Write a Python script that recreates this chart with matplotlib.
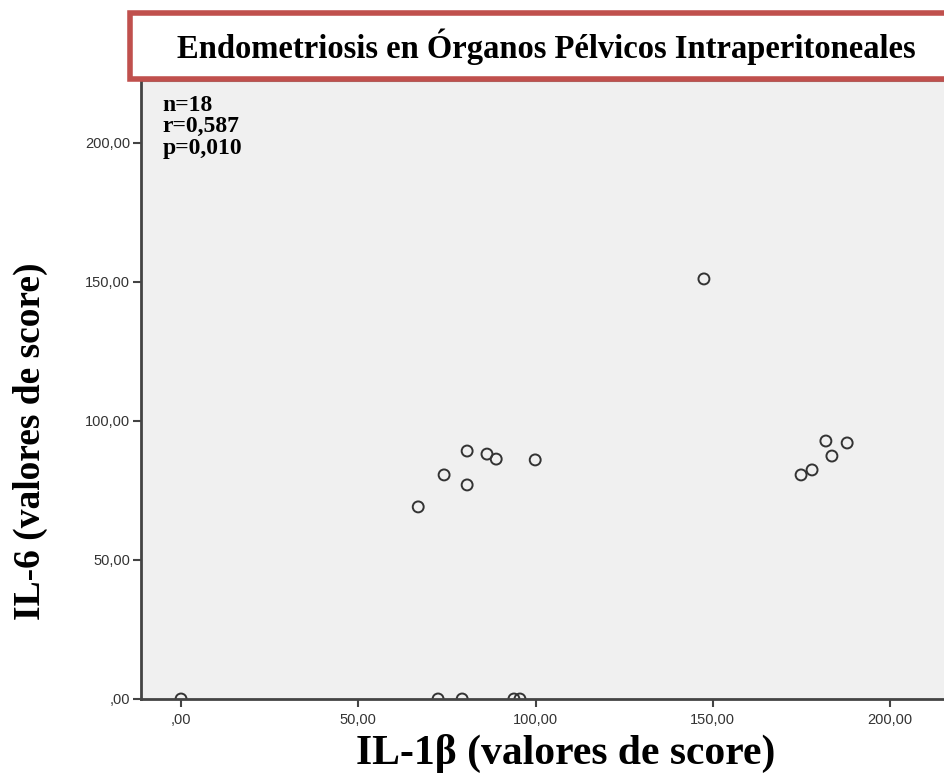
import matplotlib.pyplot as plt
from matplotlib.patches import Rectangle

# IL-1b vs IL-6 scores
il1b = [0, 72.5, 79.3, 93.9, 95.6,
        66.9, 74.2, 80.7, 80.7, 86.3, 88.9, 99.9,
        147.5,
        174.9, 178.0, 181.9, 183.6, 187.9]
il6 = [0, 0, 0, 0, 0,
       69.1, 80.6, 89.2, 77.0, 88.1, 86.3, 86.0,
       151.1,
       80.6, 82.4, 92.8, 87.4, 92.1]

ticks = [0, 50, 100, 150, 200]
tick_labels = [",00", "50,00", "100,00", "150,00", "200,00"]

title = "Endometriosis en Órganos Pélvicos Intraperitoneales"
stats = "n=18\nr=0,587\np=0,010"

serif = ['Liberation Serif', 'DejaVu Serif']
sans = ['Liberation Sans', 'DejaVu Sans']

fig = plt.figure(figsize=(9.45, 7.82), dpi=100)
ax = fig.add_axes([141/945, 1-699/782, 1-141/945, (699-81)/782])
ax.set_facecolor('#f0f0f0')

ax.scatter(il1b, il6, s=62, facecolors='none', edgecolors='#333333', linewidths=1.4, zorder=3)

ax.set_xlim(-11.3, 215.5)
ax.set_ylim(0, 222.3)
ax.set_xticks(ticks)
ax.set_xticklabels(tick_labels, family=sans, fontsize=10.5, color='#333333')
ax.set_yticks(ticks)
ax.set_yticklabels(tick_labels, family=sans, fontsize=10.5, color='#333333')
ax.tick_params(length=6, width=1.5, color='#444444', pad=4)
ax.tick_params(axis='y', pad=2)

for s in ['left', 'bottom']:
    ax.spines[s].set_linewidth(2)
    ax.spines[s].set_color('#444444')
    ax.spines[s].set_zorder(4)
ax.spines['top'].set_color('#888888')
ax.spines['right'].set_visible(False)

ax.text(0.027, 0.978, stats, transform=ax.transAxes, va='top', ha='left',
        family=serif, fontsize=17, fontweight='bold', linespacing=1.05)

fig.text(566/945, 1-753/782, "IL-1β (valores de score)", ha='center', va='center',
         family=serif, fontsize=30, fontweight='bold')
fig.text(30/945, 1-441/782, "IL-6 (valores de score)", rotation=90, va='center', ha='center',
         family=serif, fontsize=27, fontweight='bold')

# title box with red border
fig.patches.append(Rectangle((130/945, 1-79/782), 1, 66/782, transform=fig.transFigure,
                             facecolor='white', edgecolor='#c0504d', linewidth=4, zorder=5))
fig.text(546/945, 1-47/782, title, ha='center', va='center', family=serif,
         fontsize=23.5, fontweight='bold', zorder=6)

fig.savefig('out.png', dpi=100)
